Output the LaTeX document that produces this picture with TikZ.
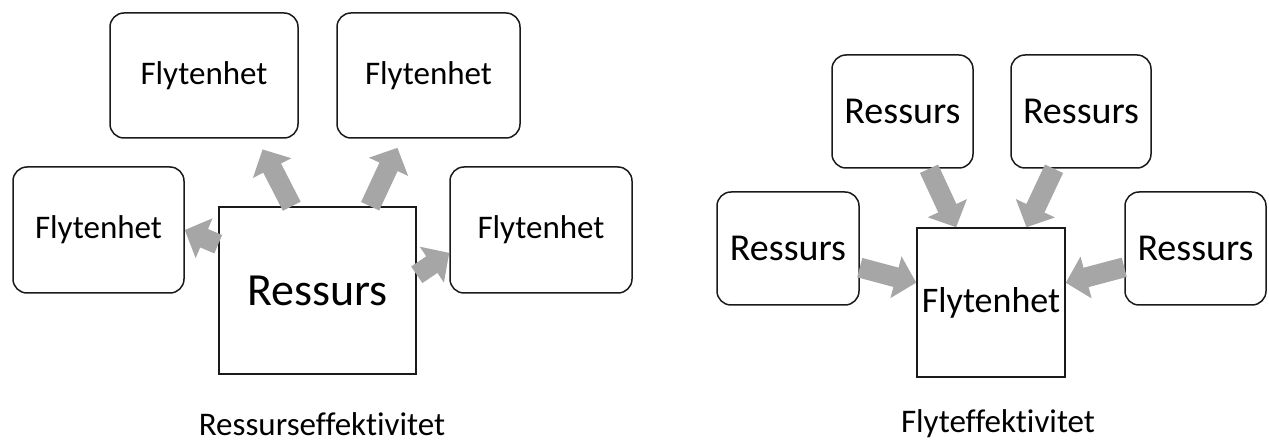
\documentclass[tikz,border=0pt]{standalone}
\usepackage{fontspec}
\setmainfont[Ligatures={NoCommon,NoContextual}]{Carlito}
\usetikzlibrary{arrows.meta}
\definecolor{pilgraa}{HTML}{A6A6A6}
\definecolor{kant}{HTML}{1A1A1A}
\begin{document}
\begin{tikzpicture}
[x=1pt, y=-1pt, color=black,
 boks/.style={draw=kant, line width=1.5pt, rounded corners=14pt, inner sep=0pt, align=center},
 firkant/.style={draw=kant, line width=1.5pt, inner sep=0pt},
 pil/.style={draw=pilgraa, line width=20pt, -{Triangle[width=42pt,length=21pt]}},
 liten/.style={font=\fontsize{33pt}{38pt}\selectfont},
 stor/.style={font=\fontsize{46pt}{52pt}\selectfont},
 middels/.style={font=\fontsize{38pt}{44pt}\selectfont}]
\useasboundingbox (0,0) rectangle (1269,443);
% Ressurseffektivitet
  \node [firkant, stor, minimum width=197pt, minimum height=167pt] (rs) at (317.5,290.5) {Ressurs};
  \node [boks, liten, minimum width=188pt, minimum height=125pt] (f1) at (204,75.5) {Flytenhet};
  \node [boks, liten, minimum width=183pt, minimum height=125pt] (f2) at (428.5,75.5) {Flytenhet};
  \node [boks, liten, minimum width=171pt, minimum height=126pt] (f3) at (98.5,230) {Flytenhet};
  \node [boks, liten, minimum width=182pt, minimum height=126pt] (f4) at (541,230) {Flytenhet};
  \node [liten] (t1) at (322,424) {Ressurseffektivitet};
  \foreach \from/\to/\kort in {rs.107/f1.310/12pt, rs.58/f2.247/10pt, rs.155/f3.east/0pt, rs.9/f4.194/0pt}
  \draw[pil, shorten >=\kort] (\from) -- (\to);
% Flyteffektivitet
  \node [firkant, font=\fontsize{36pt}{42pt}\selectfont, minimum width=148pt, minimum height=149pt] (fe) at (991,302.5) {Flytenhet};
  \node [boks, middels, minimum width=141pt, minimum height=113pt] (r1) at (902.5,111.5) {Ressurs};
  \node [boks, middels, minimum width=140pt, minimum height=113pt] (r2) at (1081,111.5) {Ressurs};
  \node [boks, middels, minimum width=142pt, minimum height=113pt] (r3) at (788,248.5) {Ressurs};
  \node [boks, middels, minimum width=141pt, minimum height=113pt] (r4) at (1195.5,248.5) {Ressurs};
  \node [liten] (t2) at (998,424) {Flyteffektivitet};
  \foreach \from/\to in {r1/fe,r2/fe,r3/fe,r4/fe}
  \draw[pil] (\from) -- (\to);
\end{tikzpicture}
\end{document}
